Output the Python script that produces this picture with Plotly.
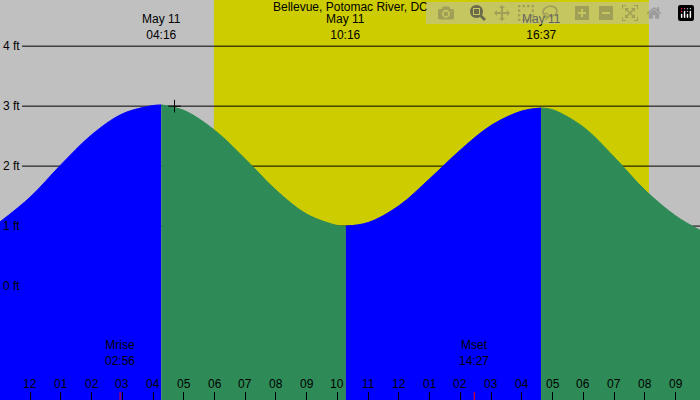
import plotly.graph_objects as go

# tide heights (ft), hours from midnight May 11
rise1_t = [-0.976, 0, 1, 2, 3, 4, 4.27]
rise1_h = [1.07, 1.48, 2.02, 2.52, 2.87, 3.01, 3.02]
fall1_t = [4.27, 5, 6, 7, 8, 9, 10, 10.27]
fall1_h = [3.02, 2.93, 2.60, 2.12, 1.60, 1.20, 1.01, 1.00]
rise2_t = [10.27, 11, 12, 13, 14, 15, 16, 16.62]
rise2_h = [1.00, 1.06, 1.34, 1.79, 2.27, 2.68, 2.92, 2.97]
fall2_t = [16.62, 17, 18, 19, 20, 21, 21.79]
fall2_h = [2.97, 2.94, 2.65, 2.15, 1.60, 1.17, 0.93]

hour_vals = list(range(-1, 22))
hour_text = ['11', '12', '01', '02', '03', '04', '05', '06', '07', '08', '09', '10',
             '11', '12', '01', '02', '03', '04', '05', '06', '07', '08', '09']
ft_vals = [0, 1, 2, 3, 4]
tide_t = [4.27, 10.27, 16.62]
tide_lbl = ['May 11<br>04:16', 'May 11<br>10:16', 'May 11<br>16:37']
moon_t = [2.93, 14.45]
moon_lbl = ['Mrise<br>02:56', 'Mset<br>14:27']
sunrise, sunset = 5.98, 20.13

X0, X1 = -0.976, 21.79
Y0, Y1 = -1.9, 4.77
FONT = dict(family='Liberation Sans', size=12, color='black')

fig = go.Figure()
segs = [(rise1_t, rise1_h, '#0000ff'), (fall1_t, fall1_h, '#2e8b57'),
        (rise2_t, rise2_h, '#0000ff'), (fall2_t, fall2_h, '#2e8b57')]
for t, h, c in segs:
    fig.add_trace(go.Scatter(x=[t[0], t[-1]], y=[Y0 - 1, Y0 - 1], mode='lines',
                             line=dict(width=0), hoverinfo='skip', showlegend=False))
    fig.add_trace(go.Scatter(x=t, y=h, mode='lines', line=dict(color=c, width=1, shape='spline'),
                             fill='tonexty', fillcolor=c, showlegend=False))

fig.add_trace(go.Scatter(x=[4.7], y=[3.0], mode='markers', showlegend=False,
                         marker=dict(symbol='cross-thin', size=9, line=dict(color='black', width=1))))

shapes = [dict(type='rect', xref='x', yref='paper', x0=sunrise, x1=sunset, y0=0, y1=1,
               fillcolor='#cccc00', line_width=0, layer='below')]
for f in ft_vals[1:]:
    shapes.append(dict(type='line', xref='paper', yref='y', x0=22 / 700, x1=1, y0=f, y1=f,
                       line=dict(color='black', width=1), layer='below'))
for t in moon_t:
    shapes.append(dict(type='line', xref='x', yref='paper', x0=t, x1=t, y0=0, y1=0.02,
                       line=dict(color='red', width=1)))
fig.update_layout(shapes=shapes)

ann = [dict(x=0.5, xref='paper', y=1, yref='paper', yanchor='top', yshift=2,
            text='Bellevue, Potomac River, DC', showarrow=False, font=FONT)]
for t, s in zip(tide_t, tide_lbl):
    ann.append(dict(x=t, y=1, xref='x', yref='paper', yanchor='top', yshift=-10, text=s,
                    showarrow=False, font=FONT))
for t, s in zip(moon_t, moon_lbl):
    ann.append(dict(x=t, y=0, xref='x', yref='paper', yanchor='bottom', yshift=30, text=s,
                    showarrow=False, font=FONT))
for t, s in zip(hour_vals, hour_text):
    ann.append(dict(x=t, y=0, xref='x', yref='paper', yanchor='bottom', yshift=7, text=s,
                    showarrow=False, font=FONT))
for f in ft_vals:
    ann.append(dict(x=0, xref='paper', xanchor='left', xshift=1, y=f, yref='y',
                    text=f'{f} ft', showarrow=False, font=FONT))
fig.update_layout(annotations=ann)

fig.update_layout(
    width=700, height=400, margin=dict(l=0, r=0, t=0, b=0),
    paper_bgcolor='#c0c0c0', plot_bgcolor='#c0c0c0',
    xaxis=dict(range=[X0, X1], showgrid=False, zeroline=False, showticklabels=False,
               tickvals=hour_vals, ticks='inside', ticklen=8, tickcolor='black'),
    yaxis=dict(range=[Y0, Y1], showgrid=False, zeroline=False, showticklabels=False),
)
fig.write_html('out.html', post_script="document.body.style.margin='0';")
